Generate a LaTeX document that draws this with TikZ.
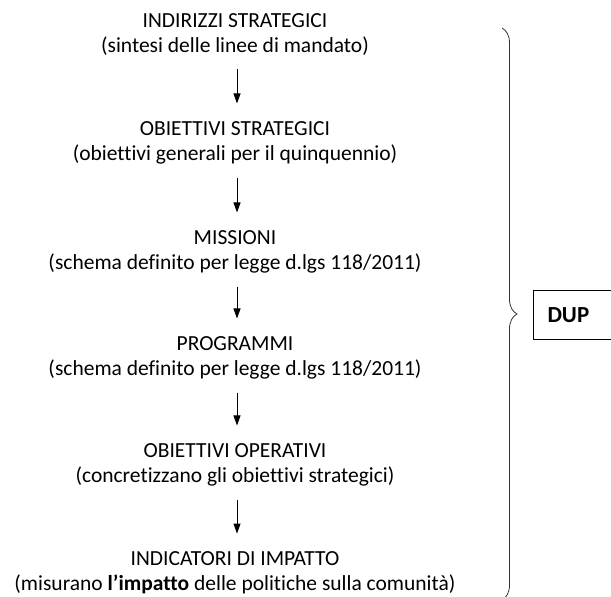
\documentclass[tikz,border=0pt]{standalone}
\usepackage{fontspec}
\setmainfont{Carlito}[Ligatures=NoCommon]
\usetikzlibrary{arrows.meta,decorations.pathreplacing}

\tikzset{
  stage/.style={align=center, inner sep=2pt, font=\fontsize{21.5}{25}\selectfont},
  flow/.style={-{Triangle[width=7pt,length=10pt]}, line width=0.9pt, shorten <=11pt, shorten >=16pt},
  dupbox/.style={draw, line width=1pt, anchor=west, text width=60pt, align=left,
    inner xsep=14pt, minimum height=49pt, font=\bfseries\fontsize{23}{27}\selectfont},
}

\begin{document}
\begin{tikzpicture}[x=1pt,y=-1pt]
            \clip (0,0) rectangle (611,597);

            \node[stage] (ind) at (235,35) {INDIRIZZI STRATEGICI\\(sintesi delle linee di mandato)};
            \node[stage] (obs) at (235,143) {OBIETTIVI STRATEGICI\\(obiettivi generali per il quinquennio)};
            \node[stage] (mis) at (235,252) {MISSIONI\\(schema definito per legge d.lgs 118/2011)};
            \node[stage] (prg) at (235,358) {PROGRAMMI\\(schema definito per legge d.lgs 118/2011)};
            \node[stage] (obo) at (235,465) {OBIETTIVI OPERATIVI\\(concretizzano gli obiettivi strategici)};
            \node[stage] (imp) at (235,573) {INDICATORI DI IMPATTO\\(misurano \textbf{l’impatto} delle politiche sulla comunità)};

            \draw[flow] ([xshift=2pt]ind.south) -- ([xshift=2pt]obs.north);
            \draw[flow] ([xshift=2pt]obs.south) -- ([xshift=2pt]mis.north);
            \draw[flow] ([xshift=2pt]mis.south) -- ([xshift=2pt]prg.north);
            \draw[flow] ([xshift=2pt]prg.south) -- ([xshift=2pt]obo.north);
            \draw[flow] ([xshift=2pt]obo.south) -- ([xshift=2pt]imp.north);

            \coordinate (bracetop) at (502,28);
            \coordinate (bracebot) at (502,600);
            \draw[line width=0.8pt, black!80, decorate, decoration={brace, amplitude=15pt}] (bracetop) -- (bracebot);

            \node[dupbox] (dup) at (533,315) {DUP};
        \end{tikzpicture}
\end{document}
